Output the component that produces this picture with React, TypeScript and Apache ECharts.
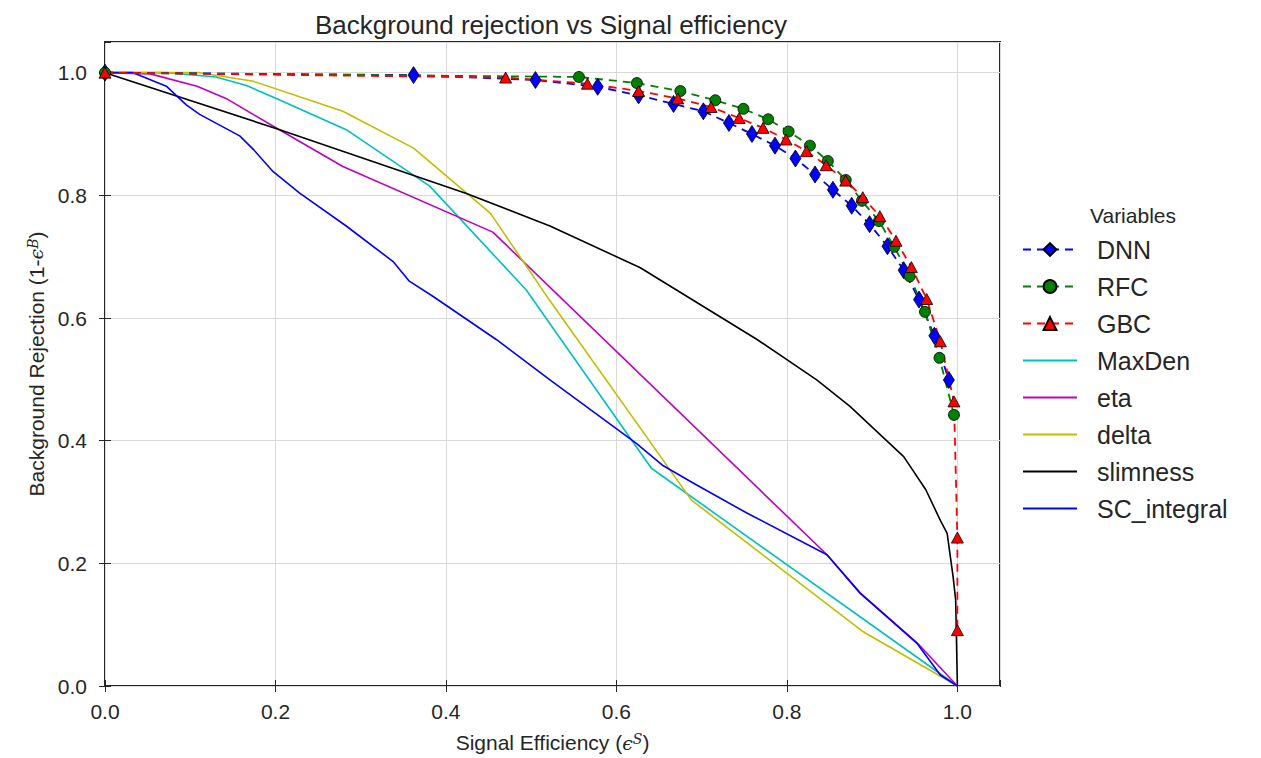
import React, { useEffect, useRef } from "react";
import * as echarts from "echarts";

const seriesNames = ["DNN", "RFC", "GBC", "MaxDen", "eta", "delta", "slimness", "SC_integral"];
const markerNames = ["DNN", "RFC", "GBC"];

const dnnPoints = [
  [0, 1.0], [0.362, 0.996], [0.505, 0.988], [0.578, 0.977], [0.626, 0.963], [0.667, 0.949],
  [0.702, 0.937], [0.732, 0.918], [0.759, 0.9], [0.786, 0.881], [0.81, 0.86], [0.833, 0.834],
  [0.854, 0.809], [0.876, 0.783], [0.897, 0.753], [0.918, 0.717], [0.937, 0.678], [0.955, 0.63],
  [0.973, 0.571], [0.99, 0.499],
];
const rfcPoints = [
  [0, 1.0], [0.556, 0.993], [0.624, 0.983], [0.675, 0.97], [0.716, 0.955], [0.749, 0.941],
  [0.778, 0.924], [0.802, 0.904], [0.827, 0.881], [0.848, 0.856], [0.869, 0.825], [0.888, 0.791],
  [0.908, 0.758], [0.926, 0.716], [0.944, 0.668], [0.962, 0.61], [0.979, 0.535], [0.996, 0.442],
];
const gbcPoints = [
  [0, 1.0], [0.47, 0.992], [0.566, 0.982], [0.626, 0.97], [0.672, 0.958], [0.711, 0.944],
  [0.744, 0.926], [0.772, 0.91], [0.799, 0.891], [0.823, 0.872], [0.846, 0.849], [0.869, 0.824],
  [0.889, 0.797], [0.909, 0.766], [0.928, 0.726], [0.946, 0.683], [0.964, 0.631], [0.98, 0.562],
  [0.996, 0.464], [1.0, 0.242], [1.0, 0.091],
];
const maxDenPoints = [
  [0, 1.0], [0.072, 1.0], [0.13, 0.993], [0.166, 0.979], [0.201, 0.958], [0.283, 0.907],
  [0.381, 0.815], [0.494, 0.646], [0.641, 0.355], [1.0, 0.0],
];
const etaPoints = [
  [0, 1.0], [0.053, 0.998], [0.108, 0.978], [0.142, 0.958], [0.197, 0.913], [0.279, 0.847],
  [0.455, 0.74], [0.847, 0.214], [0.886, 0.152], [0.953, 0.07], [1.0, 0.0],
];
const deltaPoints = [
  [0, 1.0], [0.111, 1.0], [0.174, 0.986], [0.279, 0.937], [0.362, 0.877], [0.452, 0.771],
  [0.522, 0.628], [0.688, 0.303], [0.89, 0.088], [1.0, 0.0],
];
const slimnessPoints = [
  [0, 1.0], [0.205, 0.907], [0.424, 0.803], [0.522, 0.75], [0.628, 0.682], [0.765, 0.565],
  [0.835, 0.499], [0.874, 0.456], [0.937, 0.374], [0.963, 0.32], [0.98, 0.27], [0.988, 0.249],
  [0.995, 0.178], [0.998, 0.14], [1.0, 0.0],
];
const scIntegralPoints = [
  [0, 1.0], [0.033, 1.0], [0.072, 0.978], [0.095, 0.948], [0.111, 0.932], [0.158, 0.897],
  [0.174, 0.875], [0.197, 0.839], [0.228, 0.804], [0.283, 0.75], [0.338, 0.692], [0.357, 0.66],
  [0.385, 0.635], [0.459, 0.565], [0.522, 0.499], [0.623, 0.396], [0.655, 0.359], [0.69, 0.331],
  [0.753, 0.282], [0.847, 0.214], [0.886, 0.151], [0.953, 0.069], [0.98, 0.018], [1.0, 0.0],
];

const tickValues = [0, 0.2, 0.4, 0.6, 0.8, 1.0];

const FONT = "'Liberation Sans', Arial, sans-serif";
const DARK = "#262626";
const LINE_ICON = "path://M0,0 L54,0 L54,2 L0,2 Z";

function fmt(v: number) {
  for (const t of tickValues) if (Math.abs(v - t) < 1e-6) return t.toFixed(1);
  return "";
}

export default function App() {
  const ref = useRef<HTMLDivElement>(null);
  useEffect(() => {
    if (!ref.current) return;
    const chart = echarts.init(ref.current, undefined, { renderer: "svg" });

    const markerSeries = (name: string, data: number[][], color: string, symbol: string, size: any) => ({
      name,
      type: "line",
      data,
      symbol,
      symbolSize: size,
      showSymbol: true,
      itemStyle: { color, borderColor: "#000", borderWidth: 0.8 },
      lineStyle: { color, width: 1.8, type: [8, 6] },
      z: 3,
    });
    const plainSeries = (name: string, data: number[][], color: string) => ({
      name,
      type: "line",
      data,
      symbol: "none",
      showSymbol: false,
      itemStyle: { color },
      lineStyle: { color, width: 1.6 },
      z: 2,
    });

    const axisCommon = {
      type: "value",
      min: 0,
      max: 1.05,
      interval: 0.2,
      axisLine: { show: false },
      axisTick: { show: true, inside: false, length: 6, lineStyle: { color: DARK, width: 1 } },
    };

    const nameRich = {
      t: { fontFamily: FONT, fontSize: 21, color: DARK },
      e: { fontFamily: "'DejaVu Serif', serif", fontStyle: "italic", fontSize: 19, color: DARK },
      s: { fontFamily: "'DejaVu Serif', serif", fontStyle: "italic", fontSize: 14, color: DARK, verticalAlign: "top" },
    };

    chart.setOption({
      animation: false,
      backgroundColor: "#ffffff",
      title: [
        {
          text: "Background rejection vs Signal efficiency",
          left: 546,
          top: 7,
          textAlign: "center",
          textStyle: { fontFamily: FONT, fontSize: 26, fontWeight: "normal", color: DARK },
        },
        {
          text: "Variables",
          left: 1128,
          top: 200,
          textAlign: "center",
          textStyle: { fontFamily: FONT, fontSize: 21, fontWeight: "normal", color: DARK },
        },
      ],
      grid: {
        left: 105,
        right: 261,
        top: 42,
        bottom: 72,
        show: true,
        borderColor: DARK,
        borderWidth: 2,
        containLabel: false,
      },
      legend: {
        orient: "vertical",
        left: 1017,
        top: 232,
        itemWidth: 54,
        itemHeight: 16,
        itemGap: 12,
        data: seriesNames.map((n) =>
          markerNames.includes(n) ? { name: n } : { name: n, icon: LINE_ICON }
        ),
        textStyle: {
          fontFamily: FONT,
          fontSize: 25,
          color: DARK,
          padding: [0, 0, 0, 15],
        },
      },
      xAxis: [
        {
          ...axisCommon,
          position: "bottom",
          name: "{t|Signal Efficiency (}{e|ϵ}{s|S}{t|)}",
          nameLocation: "middle",
          nameGap: 46,
          nameTextStyle: { rich: nameRich },
          axisLabel: { formatter: fmt, fontFamily: FONT, fontSize: 21, color: DARK, margin: 15, showMaxLabel: false },
          splitLine: { show: true, lineStyle: { color: "#d9d9d9", width: 1 } },
        },
        {
          ...axisCommon,
          position: "top",
          axisLabel: { show: false },
          splitLine: { show: false },
        },
      ],
      yAxis: [
        {
          ...axisCommon,
          position: "left",
          name: "{t|Background Rejection (1-}{e|ϵ}{s|B}{t|)}",
          nameLocation: "middle",
          nameGap: 53,
          nameTextStyle: { rich: nameRich },
          axisLabel: { formatter: fmt, fontFamily: FONT, fontSize: 21, color: DARK, margin: 18, showMaxLabel: false },
          splitLine: { show: true, lineStyle: { color: "#d9d9d9", width: 1 } },
        },
        {
          ...axisCommon,
          position: "right",
          axisLabel: { show: false },
          splitLine: { show: false },
        },
      ],
      series: [
        markerSeries("DNN", dnnPoints, "#0000ff", "diamond", [11, 17]),
        markerSeries("RFC", rfcPoints, "#008000", "circle", 11),
        markerSeries("GBC", gbcPoints, "#ff0000", "triangle", [12, 11]),
        plainSeries("MaxDen", maxDenPoints, "#00bfbf"),
        plainSeries("eta", etaPoints, "#bf00bf"),
        plainSeries("delta", deltaPoints, "#bfbf00"),
        plainSeries("slimness", slimnessPoints, "#000000"),
        plainSeries("SC_integral", scIntegralPoints, "#0000ff"),
      ],
    });
    return () => chart.dispose();
  }, []);

  return (
    <div
      ref={ref}
      style={{ position: "fixed", left: 0, top: 0, width: 1261, height: 758 }}
    />
  );
}
